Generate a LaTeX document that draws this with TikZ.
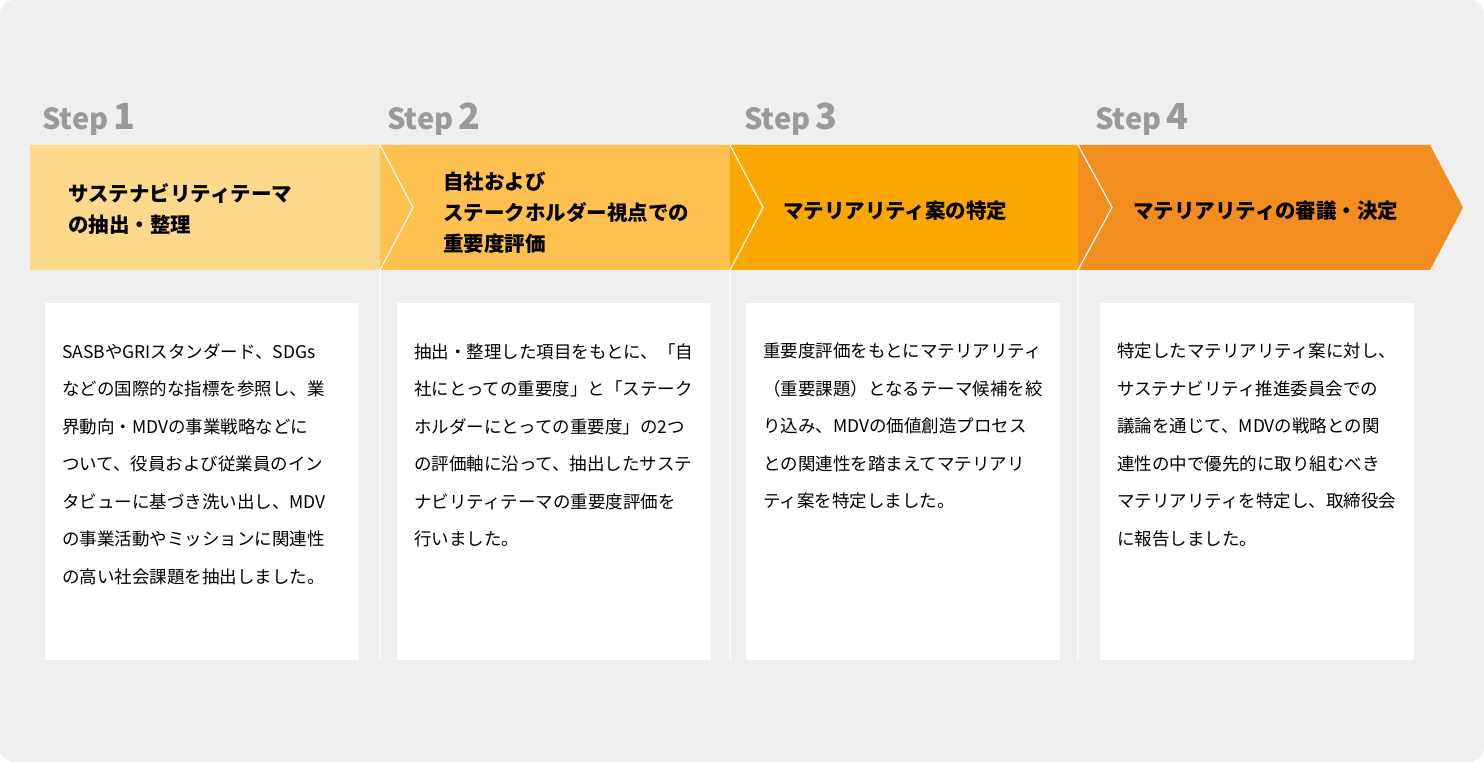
\documentclass[tikz,border=0pt]{standalone}
\usepackage{fontspec}
\setmainfont{Noto Sans CJK JP}
\usetikzlibrary{positioning}
\definecolor{bggray}{HTML}{EFEFEF}
\definecolor{labgray}{HTML}{9A9A9A}
\definecolor{sone}{HTML}{FDD98B}
\definecolor{stwo}{HTML}{FEC04F}
\definecolor{sthree}{HTML}{FCA700}
\definecolor{sfour}{HTML}{F18E1F}
\tikzset{
  steplabel/.style={anchor=base west, text=labgray, font=\bfseries\fontsize{29}{29}\selectfont, inner sep=0pt},
  steptitle/.style={anchor=west, align=left, font=\bfseries\fontsize{20.5}{31}\selectfont, inner sep=0pt},
  descbox/.style={anchor=north west, fill=white, minimum width=314pt, minimum height=357pt, inner sep=0pt},
  desctext/.style={anchor=north west, align=left, font=\fontsize{17.5}{37.5}\selectfont, inner sep=0pt},
  sepline/.style={white, line width=1.2pt},
}
\newcommand{\chev}[4]{% left, base, tip, colour
  \fill[#4] (#1,145) -- (#2,145) -- (#3,207.5) -- (#2,270) -- (#1,270) -- cycle;}
\begin{document}
\begin{tikzpicture}[x=1pt,y=-1pt]
\fill[bggray, rounded corners=14pt] (0,0) rectangle (1484,762);
\useasboundingbox (0,0) rectangle (1484,762);

% chevrons
\chev{30}{380}{413}{sone}
\chev{380}{730}{763}{stwo}
\chev{730}{1078}{1112}{sthree}
\chev{1078}{1430}{1463}{sfour}
\draw[sepline] (380,145) -- (413,207.5) -- (380,270) -- (380,660);
\draw[sepline] (730,145) -- (763,207.5) -- (730,270) -- (730,660);
\draw[sepline] (1078,145) -- (1112,207.5) -- (1078,270) -- (1078,660);

% step labels
\node (lab1) [steplabel] at (42,130) {Step\,{\fontsize{36}{36}\selectfont 1}};
\node (lab2) [steplabel] at (387,130) {Step\,{\fontsize{36}{36}\selectfont 2}};
\node (lab3) [steplabel] at (744,130) {Step\,{\fontsize{36}{36}\selectfont 3}};
\node (lab4) [steplabel] at (1095,130) {Step\,{\fontsize{36}{36}\selectfont 4}};

% titles
\node (tit1) [steptitle] at (68,209) {サステナビリティテーマ\\の抽出・整理};
\node (tit2) [steptitle] at (443,213) {自社および\\ステークホルダー視点での\\重要度評価};
\node (tit3) [steptitle] at (783,211) {マテリアリティ案の特定};
\node (tit4) [steptitle] at (1133,211) {マテリアリティの審議・決定};

% boxes
\node (box1) [descbox] at (45,303) {};
\node (box2) [descbox] at (397,303) {};
\node (box3) [descbox] at (746,303) {};
\node (box4) [descbox] at (1100,303) {};

\node (txt1) [desctext] at (62,343) {SASBやGRIスタンダード、SDGs\\などの国際的な指標を参照し、業\\界動向・MDVの事業戦略などに\\ついて、役員および従業員のイン\\タビューに基づき洗い出し、MDV\\の事業活動やミッションに関連性\\の高い社会課題を抽出しました。};
\node (txt2) [desctext] at (414,343) {抽出・整理した項目をもとに、「自\\社にとっての重要度」と「ステーク\\ホルダーにとっての重要度」の2つ\\の評価軸に沿って、抽出したサステ\\ナビリティテーマの重要度評価を\\行いました。};
\node (txt3) [desctext] at (763,343) {重要度評価をもとにマテリアリティ\\（重要課題）となるテーマ候補を絞\\り込み、MDVの価値創造プロセス\\との関連性を踏まえてマテリアリ\\ティ案を特定しました。};
\node (txt4) [desctext] at (1117,343) {特定したマテリアリティ案に対し、\\サステナビリティ推進委員会での\\議論を通じて、MDVの戦略との関\\連性の中で優先的に取り組むべき\\マテリアリティを特定し、取締役会\\に報告しました。};
\end{tikzpicture}
\end{document}
